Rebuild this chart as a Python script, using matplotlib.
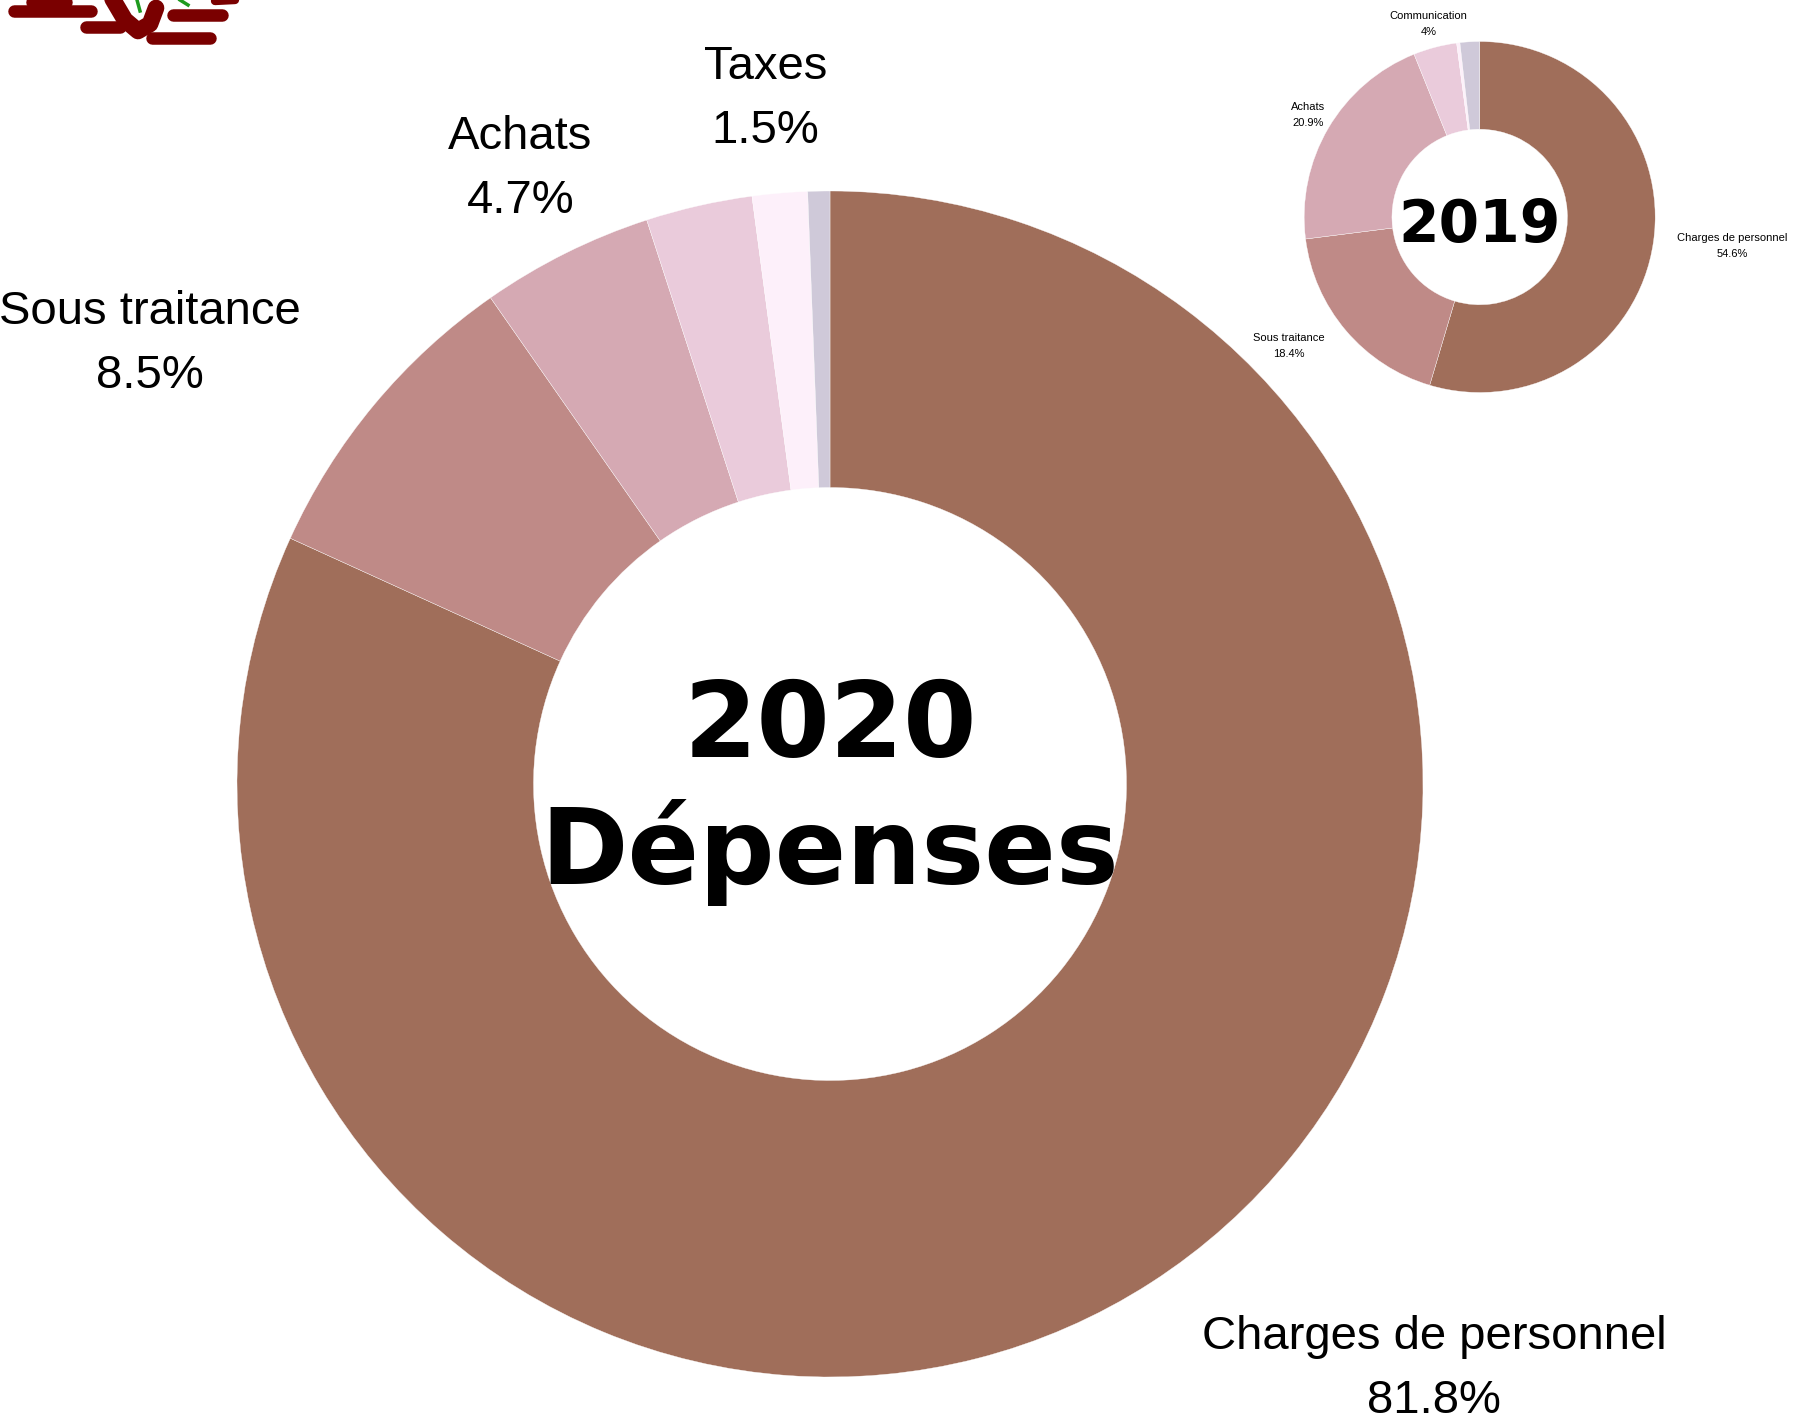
import matplotlib.pyplot as plt

# 2020 expenses (main donut)
labels_2020 = ["Charges de personnel", "Sous traitance", "Achats", "Communication", "Taxes", "Autres"]
values_2020 = [81.8, 8.5, 4.7, 2.9, 1.5, 0.6]
shown_2020 = ["Charges de personnel", "Sous traitance", "Achats", "Taxes"]

# 2019 expenses (small donut)
labels_2019 = ["Charges de personnel", "Sous traitance", "Achats", "Communication", "Taxes", "Autres"]
values_2019 = [54.6, 18.4, 20.9, 4.0, 0.3, 1.8]
shown_2019 = ["Charges de personnel", "Sous traitance", "Achats", "Communication"]

colors = ["#a06e5a", "#bf8a87", "#d5a9b3", "#eacbdb", "#fdf0fa", "#cfc9d9"]


def fmt_pct(v):
    return f"{v:g}%"


W, H = 1805, 1426
fig = plt.figure(figsize=(W / 100, H / 100), dpi=100)

# logo fragment in the top-left corner (partially cropped)
ax_logo = fig.add_axes([0, 0, 1, 1])
ax_logo.set_xlim(0, W)
ax_logo.set_ylim(H, 0)
ax_logo.axis("off")
red = "#7a0000"
for (x0, y0, x1, y1) in [(14, 11, 91, 11), (86, 27, 120, 27), (173, 15, 222, 15),
                          (152, 38, 210, 38), (32, 2, 66, 2)]:
    ax_logo.plot([x0, x1], [y0, y1], color=red, lw=9, solid_capstyle="round")
ax_logo.plot([112, 125, 138, 150, 156], [-2, 20, 31, 24, 8], color=red, lw=12,
             solid_capstyle="round")
ax_logo.plot([137, 140], [0, 11], color="#1e9a1e", lw=2.5)
ax_logo.plot([180, 188], [0, 5], color="#1e9a1e", lw=2.5)
ax_logo.plot([215, 235], [1, 0], color=red, lw=6, solid_capstyle="round")


def donut(rect, values, labels, shown, label_pos, fs, center_lines, center_fs, line_gap):
    ax = fig.add_axes(rect)
    ax.pie(values, colors=colors, startangle=90, counterclock=False, radius=1.0,
           wedgeprops=dict(width=0.5, edgecolor="white", linewidth=0.25))
    ax.set_xlim(-1, 1)
    ax.set_ylim(-1, 1)
    ax.set_aspect("auto")
    ax.axis("off")
    for name in shown:
        x, y = label_pos[name]
        v = values[labels.index(name)]
        ax.text(x, y, name, ha="center", va="center", fontsize=fs,
                family="Liberation Sans", clip_on=False)
        ax.text(x, y - line_gap, fmt_pct(v), ha="center", va="center", fontsize=fs,
                family="Liberation Sans", clip_on=False)
    for text, y in center_lines:
        ax.text(0, y, text, ha="center", va="center", fontsize=center_fs,
                fontweight="black", family="DejaVu Sans")
    return ax


R1, c1 = 593, (830, 784)
rect1 = [(c1[0] - R1) / W, (H - c1[1] - R1) / H, 2 * R1 / W, 2 * R1 / H]
pos_2020 = {
    "Charges de personnel": (1.019, -0.932),
    "Sous traitance": (-1.147, 0.796),
    "Achats": (-0.522, 1.091),
    "Taxes": (-0.109, 1.209),
}
donut(rect1, values_2020, labels_2020, shown_2020, pos_2020, 34,
      [("2020", 0.094), ("Dépenses", -0.115)], 76, 0.108)

R2, c2 = 175.5, (1479.7, 217)
rect2 = [(c2[0] - R2) / W, (H - c2[1] - R2) / H, 2 * R2 / W, 2 * R2 / H]
pos_2019 = {
    "Charges de personnel": (1.440, -0.120),
    "Sous traitance": (-1.087, -0.689),
    "Achats": (-0.980, 0.627),
    "Communication": (-0.291, 1.145),
}
donut(rect2, values_2019, labels_2019, shown_2019, pos_2019, 8,
      [("2019", -0.05)], 42, 0.092)

fig.savefig("out.png", dpi=100)
